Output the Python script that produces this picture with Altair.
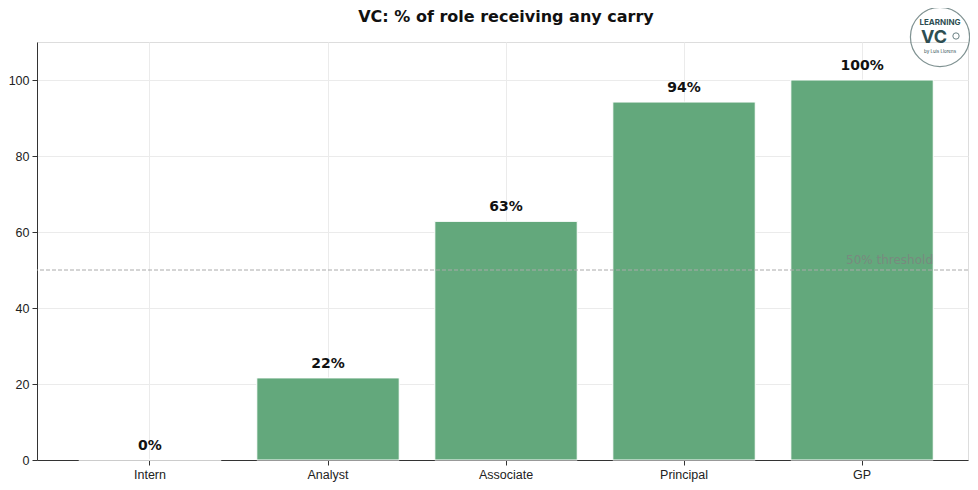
import altair as alt
import pandas as pd

roles = ["Intern", "Analyst", "Associate", "Principal", "GP"]
carry_pct = [0.0, 21.6, 62.8, 94.2, 100.0]
threshold = 50

FONT = "DejaVu Sans"
BAR_GREEN = "#63a87c"
LOGO_INK = "#2e4e52"

df = pd.DataFrame({"Role": roles, "Pct": carry_pct})
df["Label"] = df["Pct"].round(0).astype(int).astype(str) + "%"

W, H = 931, 418

x_enc = alt.X(
    "Role:N",
    sort=roles,
    title=None,
    scale=alt.Scale(paddingInner=0.2, paddingOuter=0.215, align=0.546),
    axis=alt.Axis(
        labelAngle=0,
        bandPosition=0.5,
        grid=True,
        gridColor="#ebebeb",
        domainColor="#333333",
        tickColor="#333333",
        labelColor="#222222",
        labelFontSize=12.5,
        labelPadding=3,
    ),
)
y_enc = alt.Y(
    "Pct:Q",
    title=None,
    scale=alt.Scale(domain=[0, 110], nice=False),
    axis=alt.Axis(
        values=[0, 20, 40, 60, 80, 100],
        grid=True,
        gridColor="#ebebeb",
        domainColor="#333333",
        tickColor="#333333",
        labelColor="#222222",
        labelFontSize=12.5,
        labelPadding=3,
    ),
)

base = alt.Chart(df)

bars = base.mark_bar(color=BAR_GREEN, stroke="#ffffff", strokeWidth=1).encode(
    x=x_enc, y=y_enc
)

labels = base.mark_text(
    fontWeight="bold", fontSize=14, dy=-14, color="#111111", font=FONT
).encode(x=alt.X("Role:N", sort=roles), y="Pct:Q", text="Label:N")

thr = pd.DataFrame({"y": [threshold], "txt": ["50% threshold"]})
thr_line = alt.Chart(thr).mark_rule(
    color="#aaaaaa", strokeDash=[4, 2], strokeWidth=1
).encode(y="y:Q")
thr_text = alt.Chart(thr).mark_text(
    align="right", baseline="bottom", dy=-3, fontSize=12, color="#808080",
    opacity=0.75, font=FONT
).encode(y="y:Q", x=alt.value(W - 35), text="txt:N")

one = pd.DataFrame({"a": [0]})

# title drawn as a text mark so the logo does not push it around
title = alt.Chart(one).mark_text(
    text="VC: % of role receiving any carry", fontSize=16, fontWeight="bold",
    font=FONT, color="#111111"
).encode(x=alt.value(469), y=alt.value(-25))

# logo in the top right corner
logo_circle = alt.Chart(one).mark_point(
    shape="circle", size=3500, filled=False, color="#4a6464", strokeWidth=1.2
).encode(x=alt.value(W - 28), y=alt.value(-5))
bulb = alt.Chart(one).mark_point(
    shape="circle", size=40, filled=False, color=LOGO_INK, strokeWidth=1
).encode(x=alt.value(W - 12), y=alt.value(-6))


def logo_line(txt, dx, dy, size, weight="bold"):
    return alt.Chart(one).mark_text(
        text=txt, dx=dx, dy=dy, fontSize=size, fontWeight=weight,
        color=LOGO_INK, font="Inter"
    ).encode(x=alt.value(W - 28), y=alt.value(-5))


logo = [
    logo_circle,
    bulb,
    logo_line("LEARNING", 0, -14, 8),
    logo_line("VC", -6, 1, 18),
    logo_line("by Luis Llorens", 0, 15, 4.5, "normal"),
]

chart = alt.layer(
    bars, thr_line, thr_text, labels, title, *logo
).properties(
    width=W,
    height=H,
    autosize="none",
    padding={"left": 29, "top": 34, "right": 2, "bottom": 22},
).configure_view(stroke=None).configure_axis(labelFont=FONT).configure(
    background="white"
)

chart.save("out.html", embed_options={"renderer": "svg", "actions": False})
